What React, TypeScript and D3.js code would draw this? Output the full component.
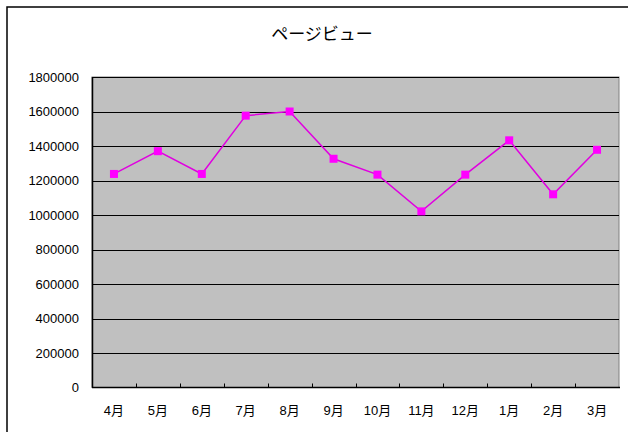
import { useMemo } from "react";
import * as d3 from "d3";

const WIDTH = 628;
const HEIGHT = 432;
const PLOT = { left: 92, top: 77, right: 619, bottom: 387.5 };

const title = "ページビュー";
const months = ["4月", "5月", "6月", "7月", "8月", "9月", "10月", "11月", "12月", "1月", "2月", "3月"];
const pageViews = [1238000, 1370000, 1238000, 1576000, 1600000, 1326000, 1234000, 1021000, 1234000, 1433000, 1120000, 1378000];
const yTicks = [0, 200000, 400000, 600000, 800000, 1000000, 1200000, 1400000, 1600000, 1800000];

const FONT = "'Liberation Sans', Arial, 'Noto Sans CJK JP', sans-serif";

export default function App() {
  const xScale = useMemo(
    () => d3.scaleBand().domain(months).range([PLOT.left, PLOT.right]),
    []
  );
  const yScale = useMemo(
    () => d3.scaleLinear().domain([0, 1800000]).range([PLOT.bottom, PLOT.top]),
    []
  );

  const cx = (m: string) => (xScale(m) ?? 0) + xScale.bandwidth() / 2;

  const line = d3
    .line<number>()
    .x((_, i) => cx(months[i]))
    .y((d) => yScale(d));

  return (
    <div style={{ position: "absolute", left: 0, top: 0 }}>
      <svg width={WIDTH} height={HEIGHT} style={{ display: "block", background: "white" }}>
        {/* outer chart frame (right/bottom edges fall outside the picture) */}
        <rect x={7} y={7} width={622} height={440} fill="white" stroke="black" strokeWidth={1.5} />

        <text x={322} y={40} textAnchor="middle" fontSize={17} fontFamily={FONT} fill="black">
          {title}
        </text>

        {/* plot area */}
        <rect
          x={PLOT.left}
          y={PLOT.top}
          width={PLOT.right - PLOT.left}
          height={PLOT.bottom - PLOT.top}
          fill="#c0c0c0"
          stroke="#808080"
          strokeWidth={1}
        />

        {/* gridlines + y labels */}
        {yTicks.map((t) => (
          <g key={t}>
            {t > 0 && (
              <line
                x1={PLOT.left}
                x2={PLOT.right}
                y1={Math.round(yScale(t)) + 0.5}
                y2={Math.round(yScale(t)) + 0.5}
                stroke="#000"
                strokeWidth={1}
              />
            )}
            <text
              x={79}
              y={yScale(t)}
              textAnchor="end"
              dominantBaseline="central"
              fontSize={13}
              fontFamily={FONT}
              fill="black"
            >
              {t}
            </text>
          </g>
        ))}

        {/* axes */}
        <line x1={PLOT.left + 0.5} x2={PLOT.left + 0.5} y1={PLOT.top} y2={PLOT.bottom} stroke="#000" strokeWidth={1.5} />
        <line x1={PLOT.left} x2={PLOT.right + 1} y1={PLOT.bottom} y2={PLOT.bottom} stroke="#000" strokeWidth={1.5} />

        {/* x tick marks at category boundaries */}
        {months.slice(1).map((m) => (
          <line
            key={m}
            x1={Math.round(xScale(m) ?? 0) + 0.5}
            x2={Math.round(xScale(m) ?? 0) + 0.5}
            y1={PLOT.bottom}
            y2={PLOT.bottom - 4}
            stroke="#000"
            strokeWidth={1}
          />
        ))}

        {/* x labels */}
        {months.map((m) => (
          <text
            key={m}
            x={cx(m)}
            y={410}
            textAnchor="middle"
            dominantBaseline="central"
            fontSize={13}
            fontFamily={FONT}
            fill="black"
          >
            {m}
          </text>
        ))}

        {/* series */}
        <path d={line(pageViews) ?? ""} fill="none" stroke="#e000e0" strokeWidth={1.5} />
        {pageViews.map((v, i) => (
          <rect
            key={months[i]}
            x={cx(months[i]) - 4}
            y={yScale(v) - 4}
            width={8}
            height={8}
            fill="#ff00ff"
          />
        ))}
      </svg>
    </div>
  );
}
